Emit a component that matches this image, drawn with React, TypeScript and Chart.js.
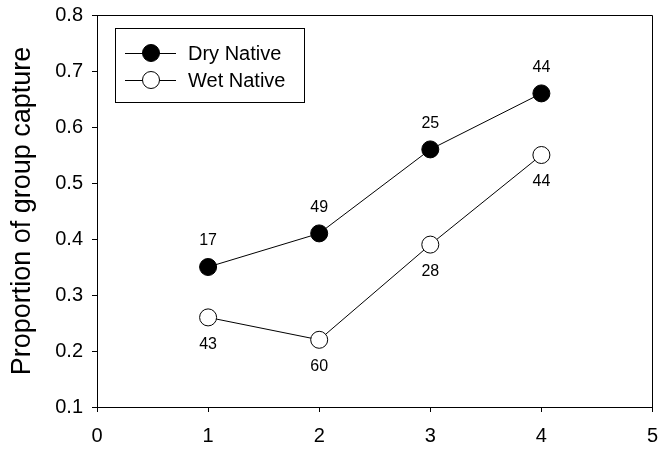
import React, { useEffect, useRef } from "react";
import { Chart, registerables } from "chart.js";

Chart.register(...registerables);

const xValues = [1, 2, 3, 4];
const dryValues = [0.35, 0.41, 0.56, 0.66];
const wetValues = [0.26, 0.22, 0.39, 0.55];
const dryCounts = ["17", "49", "25", "44"];
const wetCounts = ["43", "60", "28", "44"];
const seriesNames = ["Dry Native", "Wet Native"];
const yTitle = "Proportion of group capture";

const FONT = "'Liberation Sans', Arial, sans-serif";

const countLabels = {
  id: "countLabels",
  afterDatasetsDraw(chart: any) {
    const ctx = chart.ctx;
    ctx.save();
    ctx.font = `16px ${FONT}`;
    ctx.fillStyle = "#000";
    ctx.textAlign = "center";
    ctx.textBaseline = "middle";
    const sets = [
      { idx: 0, labels: dryCounts, dy: -26 },
      { idx: 1, labels: wetCounts, dy: 27 },
    ];
    sets.forEach((s) => {
      const meta = chart.getDatasetMeta(s.idx);
      meta.data.forEach((pt: any, i: number) => {
        ctx.fillText(s.labels[i], pt.x, pt.y + s.dy);
      });
    });
    ctx.restore();
  },
};

const frameAndLegend = {
  id: "frameAndLegend",
  afterDraw(chart: any) {
    const ctx = chart.ctx;
    const a = chart.chartArea;
    ctx.save();
    ctx.strokeStyle = "#000";
    ctx.lineWidth = 1;
    ctx.beginPath();
    ctx.moveTo(Math.round(a.left) + 0.5, Math.round(a.top) + 0.5);
    ctx.lineTo(Math.round(a.right) - 0.5, Math.round(a.top) + 0.5);
    ctx.lineTo(Math.round(a.right) - 0.5, Math.round(a.bottom) + 0.5);
    ctx.stroke();

    const bx = Math.round(a.left) + 18;
    const by = Math.round(a.top) + 13;
    const bw = 189;
    const bh = 74;
    ctx.strokeRect(bx + 0.5, by + 0.5, bw, bh);
    const rows = [
      { name: seriesNames[0], fill: "#000", y: by + 25 },
      { name: seriesNames[1], fill: "#fff", y: by + 52 },
    ];
    rows.forEach((r) => {
      ctx.beginPath();
      ctx.moveTo(bx + 10, r.y + 0.5);
      ctx.lineTo(bx + 61, r.y + 0.5);
      ctx.stroke();
      ctx.beginPath();
      ctx.arc(bx + 36, r.y, 8.5, 0, Math.PI * 2);
      ctx.fillStyle = r.fill;
      ctx.fill();
      ctx.stroke();
      ctx.fillStyle = "#000";
      ctx.font = `20px ${FONT}`;
      ctx.textAlign = "left";
      ctx.textBaseline = "middle";
      ctx.fillText(r.name, bx + 73, r.y + 1);
    });
    ctx.restore();
  },
};

export default function App() {
  const ref = useRef<HTMLCanvasElement>(null);
  useEffect(() => {
    if (!ref.current) return;
    const chart = new Chart(ref.current, {
      type: "scatter",
      data: {
        datasets: [
          {
            label: seriesNames[0],
            data: xValues.map((x, i) => ({ x, y: dryValues[i] })),
            showLine: true,
            borderColor: "#000",
            borderWidth: 1,
            backgroundColor: "#000",
            pointBackgroundColor: "#000",
            pointBorderColor: "#000",
            pointBorderWidth: 1,
            pointRadius: 8.5,
          },
          {
            label: seriesNames[1],
            data: xValues.map((x, i) => ({ x, y: wetValues[i] })),
            showLine: true,
            borderColor: "#000",
            borderWidth: 1,
            backgroundColor: "#fff",
            pointBackgroundColor: "#fff",
            pointBorderColor: "#000",
            pointBorderWidth: 1,
            pointRadius: 8.5,
          },
        ],
      },
      options: {
        responsive: false,
        animation: false,
        layout: { padding: { top: 15, right: 5, left: 0, bottom: 0 } },
        plugins: {
          legend: { display: false },
          tooltip: { enabled: false },
        },
        scales: {
          x: {
            type: "linear",
            min: 0,
            max: 5,
            afterFit: (s: any) => {
              s.height = 45;
              s.paddingLeft = 0;
              s.paddingRight = 0;
            },
            ticks: {
              stepSize: 1,
              color: "#000",
              padding: 12,
              font: { family: FONT, size: 20 },
            },
            grid: {
              drawOnChartArea: false,
              drawTicks: true,
              tickLength: 5,
              color: "#000",
            },
            border: { display: true, color: "#000", width: 1 },
          },
          y: {
            type: "linear",
            min: 0.1,
            max: 0.8,
            afterFit: (s: any) => {
              s.width = 97;
              s.paddingTop = 0;
              s.paddingBottom = 0;
            },
            ticks: {
              stepSize: 0.1,
              color: "#000",
              padding: 9,
              font: { family: FONT, size: 20 },
              callback: (v: any) => Number(v).toFixed(1),
            },
            grid: {
              drawOnChartArea: false,
              drawTicks: true,
              tickLength: 5,
              color: "#000",
            },
            border: { display: true, color: "#000", width: 1 },
            title: {
              display: true,
              text: yTitle,
              color: "#000",
              font: { family: FONT, size: 27 },
              padding: { top: 6, bottom: 0 },
            },
          },
        },
      },
      plugins: [countLabels, frameAndLegend],
    });
    return () => chart.destroy();
  }, []);
  return (
    <div style={{ position: "fixed", left: 0, top: 0, width: 662, height: 452, background: "#fff" }}>
      <canvas ref={ref} width={662} height={452} />
    </div>
  );
}
